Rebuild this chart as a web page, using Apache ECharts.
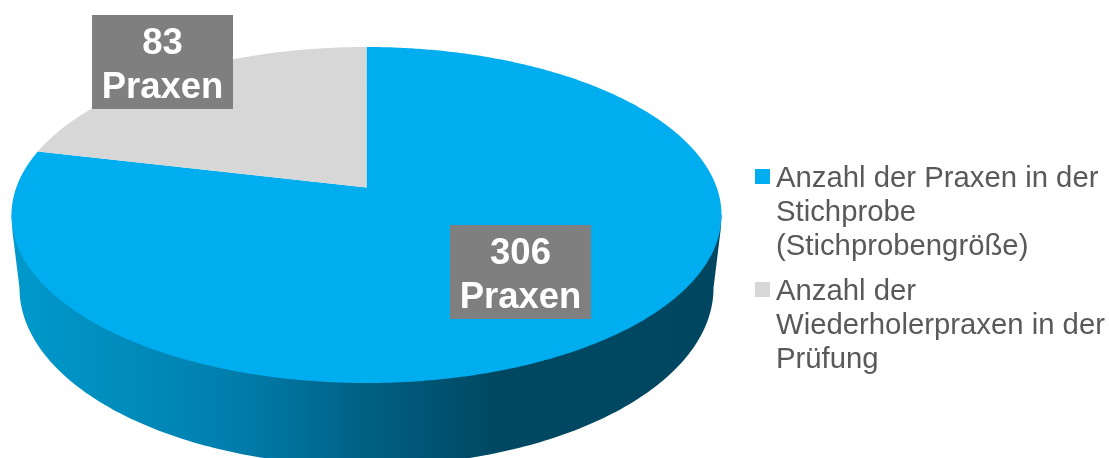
<!DOCTYPE html>
<html>
<head>
<meta charset="utf-8">
<style>html,body{margin:0;padding:0;background:#fff;overflow:hidden}#c{width:1109px;height:458px}</style>
<script src="https://cdn.jsdelivr.net/npm/echarts@6/dist/echarts.min.js"></script>
</head>
<body>
<div id="c"></div>
<script>
const categories = ['Anzahl der Praxen in der\nStichprobe\n(Stichprobengröße)', 'Anzahl der\nWiederholerpraxen in der\nPrüfung'];
const values = [306, 83];
const unit = 'Praxen';

const colors = ['#00AEEF', '#D7D7D7'];
const total = values.reduce((a, b) => a + b, 0);
const CX = 366.5, CY = 215, RX = 355, RY = 168, K = -27.5 / 168;
const labelCentres = [[520.5, 272], [162.5, 62]];

// projective map of a disc angle (clockwise from the top) onto the tilted top face
function project(theta) {
  const u = Math.sin(theta), v = -Math.cos(theta);
  const d = 1 + K * v;
  return [CX + RX * u * Math.sqrt(1 - K * K) / d, CY + RY * (v + K) / d];
}
function arc(start, end) {
  const n = Math.max(2, Math.ceil((end - start) / (Math.PI / 360)));
  const pts = [];
  for (let i = 0; i <= n; i++) pts.push(project(start + (end - start) * i / n));
  return pts;
}
function wallPoints() {
  const pts = [[CX + RX, CY], [720.5, 231]];
  const bx = 347, by = 288, bry = 178;
  for (let i = 0; i <= 180; i++) {
    const a = Math.PI * i / 180;
    pts.push([CX + bx * Math.cos(a), by + bry * Math.sin(a)]);
  }
  pts.push([12.5, 232], [CX - RX, CY]);
  return pts;
}
function sliceRenderer(index) {
  return function (params, api) {
    const value = api.value(0);
    let before = 0;
    for (let i = 0; i < index; i++) before += values[i];
    const start = before / total * Math.PI * 2;
    const end = (before + value) / total * Math.PI * 2;
    const children = [];
    if (index === 0) {
      children.push({
        type: 'polygon',
        shape: { points: wallPoints() },
        style: {
          fill: new echarts.graphic.LinearGradient(0, 0, 1, 0, [
            { offset: 0, color: '#0099CC' },
            { offset: 0.16, color: '#008CBC' },
            { offset: 0.32, color: '#007DAB' },
            { offset: 0.5, color: '#006084' },
            { offset: 0.68, color: '#004862' },
            { offset: 1, color: '#004660' }
          ])
        }
      });
    }
    children.push({
      type: 'polygon',
      shape: { points: [[CX, CY + RY * K]].concat(arc(start, end)) },
      style: { fill: colors[index] }
    });
    children.push({
      type: 'rect',
      z2: 99,
      shape: { x: labelCentres[index][0] - 70.5, y: labelCentres[index][1] - 47, width: 141, height: 94 },
      style: { fill: '#7F7F7F' }
    });
    children.push({
      type: 'text',
      z2: 100,
      x: labelCentres[index][0],
      y: labelCentres[index][1] + 4,
      style: {
        text: value + '\n' + unit,
        fill: '#FFFFFF',
        font: 'bold 36.5px "Liberation Sans", Arial, sans-serif',
        lineHeight: 44,
        align: 'center',
        verticalAlign: 'middle'
      }
    });
    return { type: 'group', children };
  };
}

const chart = echarts.init(document.getElementById('c'), null, { renderer: 'canvas' });
chart.setOption({
  animation: false,
  backgroundColor: '#fff',
  legend: {
    orient: 'vertical',
    left: 755,
    top: 162,
    padding: 0,
    itemWidth: 15,
    itemHeight: 102,
    itemGap: 11,
    icon: 'path://M0 7H15V22H0Z M0 0H15V0H0Z M0 102H15V102H0Z',
    selectedMode: false,
    data: categories,
    textStyle: {
      color: '#595959',
      fontFamily: '"Liberation Sans", Arial, sans-serif',
      fontSize: 29.3,
      lineHeight: 34,
      padding: [0, 0, 0, 1]
    }
  },
  series: categories.map((name, i) => ({
    type: 'custom',
    name,
    coordinateSystem: 'none',
    silent: true,
    z: i === 0 ? 2 : 3,
    itemStyle: { color: colors[i] },
    renderItem: sliceRenderer(i),
    data: [[values[i]]]
  }))
});
</script>
</body>
</html>
